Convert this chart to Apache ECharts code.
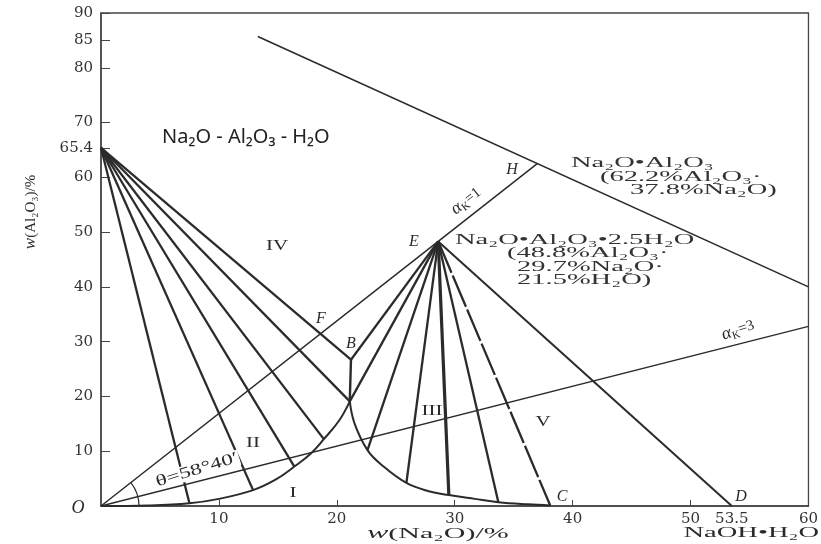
<!DOCTYPE html>
<html>
<head>
<meta charset="utf-8">
<script src="https://cdn.jsdelivr.net/npm/echarts@6/dist/echarts.min.js"></script>
<style>
  html, body { margin: 0; padding: 0; background: #fff; }
  #main { width: 821px; height: 544px; }
</style>
</head>
<body>
<div id="main"></div>
<script>
// 关键点 [w(Na2O), w(Al2O3)]
var pointA = [0, 65.4];
var pointE = [28.6, 48.3];
var pointH = [37, 62.5];
var pointB = [21.2, 26.7];
var pointP = [21.1, 19.1];
var pointC = [38.1, 0.1];
var pointD = [53.5, 0];
var origin = [0, 0];
var anhydrousLine = [[13.3, 85.7], [60, 40]];
var alpha3End = [60, 32.8];

// 溶解度曲线
var curveOP = [[0, 0], [4, 0.1], [7.5, 0.5], [10, 1.3], [12.9, 2.9], [14.8, 4.8], [16.4, 7.2], [17.8, 9.6], [18.9, 12.2], [20.2, 15.6], [21.1, 19.1]];
var curvePC = [[21.1, 19.1], [21.5, 15.1], [22.6, 10.2], [23.8, 7.5], [25.9, 4.2], [27.8, 2.7], [29.5, 2.0], [31.7, 1.3], [33.7, 0.7], [36.2, 0.3], [38.1, 0.1]];

// 连接线端点
var fanAEnds = [[7.5, 0.5], [12.9, 2.9], [16.4, 7.2], [18.9, 12.2], [21.1, 19.1], [21.2, 26.7]];
var fanEEnds = [[21.2, 26.7], [21.1, 19.1], [22.6, 10.2], [25.9, 4.2], [29.5, 2.0], [33.7, 0.7]];

// 刻度
var xTicks = [10, 20, 30, 40, 50];
var xLabels = [10, 20, 30, 40, 50, 53.5, 60];
var yTicks = [10, 20, 30, 40, 50, 60, 65.4, 70, 80, 85, 90];

var ink = '#2b2b2b';
var serif = 'Liberation Serif';

function seg(points, width, type) {
    return {
        type: 'line',
        data: points,
        symbol: 'none',
        silent: true,
        lineStyle: { color: ink, width: width, type: type || 'solid' }
    };
}

function curve(points, width) {
    var s = seg(points, width);
    s.smooth = 0.4;
    return s;
}

var series = [];
series.push(seg(anhydrousLine, 1.6));
series.push(seg([origin, pointE, pointH], 1.5));
series.push(seg([origin, alpha3End], 1.3));
series.push(curve(curveOP, 2));
series.push(curve(curvePC, 2));
series.push(seg([pointB, pointP], 2.4));
fanAEnds.forEach(function (p) { series.push(seg([pointA, p], 2.3)); });
fanEEnds.forEach(function (p, i) { series.push(seg([pointE, p], i === 4 ? 3.2 : 2.3)); });
series.push(seg([pointE, pointC], 2.3, [34, 3]));
series.push(seg([pointE, pointD], 2));

var myChart = echarts.init(document.getElementById('main'));

myChart.setOption({
    animation: false,
    backgroundColor: '#fff',
    grid: { left: 101, right: 10, top: 13, bottom: 38, show: true, borderColor: '#444', borderWidth: 1.3 },
    xAxis: {
        type: 'value', min: 0, max: 60,
        axisLine: { lineStyle: { color: '#444', width: 1.5 } },
        axisTick: { inside: true, length: 6, customValues: xTicks, lineStyle: { color: '#444' } },
        axisLabel: { customValues: xLabels, color: '#333', fontFamily: 'DejaVu Serif', fontSize: 15, margin: 6 },
        splitLine: { show: false }
    },
    yAxis: {
        type: 'value', min: 0, max: 90,
        axisLine: { show: true, lineStyle: { color: '#444', width: 1.5 } },
        axisTick: { show: true, inside: true, length: 9, customValues: yTicks, lineStyle: { color: '#444' } },
        axisLabel: { customValues: yTicks, color: '#333', fontFamily: 'DejaVu Serif', fontSize: 15, margin: 8 },
        splitLine: { show: false }
    },
    series: series
});

// 注释文字
function txt(x, y, text, o) {
    o = o || {};
    var style = {
        text: text,
        fill: o.color || '#2a2a2a',
        textAlign: o.align || 'center',
        textVerticalAlign: 'middle',
        backgroundColor: o.bg,
        padding: o.pad
    };
    if (o.rich) {
        style.rich = o.rich;
    } else {
        style.font = (o.style || 'normal') + ' ' + (o.size || 15) + 'px ' + (o.family || serif);
    }
    return {
        type: 'text', x: x, y: y, z: 100,
        rotation: (o.rot || 0) * Math.PI / 180,
        scaleX: o.sx || 1,
        style: style
    };
}

function tok(size, italic) {
    var f = (italic ? 'italic ' : '') + size + 'px ' + serif;
    return { font: f, fontSize: size, fontFamily: serif, fontStyle: italic ? 'italic' : 'normal', fill: '#2a2a2a' };
}

var o0 = myChart.convertToPixel({ gridIndex: 0 }, origin);
var eP = myChart.convertToPixel({ gridIndex: 0 }, pointE);
var ang = Math.atan2(o0[1] - eP[1], eP[0] - o0[0]);

var alphaRich = {
    a: Object.assign(tok(18, true), { lineHeight: 20 }),
    k: Object.assign(tok(11, false), { lineHeight: 10, verticalAlign: 'bottom' }),
    n: Object.assign(tok(15, false), { lineHeight: 20 })
};
var comp = { align: 'left', size: 15, sx: 1.9, color: '#333' };

myChart.setOption({
    graphic: [
        { type: 'arc', z: 100, shape: { cx: o0[0], cy: o0[1], r: 38, startAngle: -ang, endAngle: 0, clockwise: true },
          style: { stroke: ink, lineWidth: 1.2, fill: null } },
        txt(162, 137, 'Na₂O - Al₂O₃ - H₂O', { align: 'left', family: 'Noto Sans', size: 20, color: '#222' }),
        txt(78, 508, 'O', { style: 'italic', size: 18 }),
        txt(277, 246, 'IV', { size: 15, sx: 1.4 }),
        txt(253, 443, 'II', { size: 15, sx: 1.4 }),
        txt(293, 493, 'I', { size: 15, sx: 1.4 }),
        txt(432, 411, 'III', { size: 15, sx: 1.4 }),
        txt(543, 422, 'V', { size: 15, sx: 1.4 }),
        txt(321, 319, 'F', { style: 'italic', size: 16 }),
        txt(351, 344, 'B', { style: 'italic', size: 16 }),
        txt(414, 242, 'E', { style: 'italic', size: 16 }),
        txt(512, 170, 'H', { style: 'italic', size: 16 }),
        txt(562, 497, 'C', { style: 'italic', size: 16 }),
        txt(741, 497, 'D', { style: 'italic', size: 16 }),
        txt(466, 201, '{a|α}{k|K}{n|=1}', { rot: 38, rich: alphaRich }),
        txt(738, 330, '{a|α}{k|K}{n|=3}', { rot: 18, rich: alphaRich }),
        txt(197, 470, 'θ=58°40′', { rot: 17, size: 16, sx: 1.45, bg: '#fff', pad: [0, 1] }),
        txt(571, 163, 'Na₂O•Al₂O₃', comp),
        txt(600, 177, '(62.2%Al₂O₃·', comp),
        txt(630, 190, '37.8%Na₂O)', comp),
        txt(455, 240, 'Na₂O•Al₂O₃•2.5H₂O', comp),
        txt(507, 253, '(48.8%Al₂O₃·', comp),
        txt(517, 267, '29.7%Na₂O·', comp),
        txt(517, 280, '21.5%H₂O)', comp),
        txt(367, 534, '{i|w}{t|(Na₂O)/%}', { align: 'left', sx: 2.0, rich: { i: tok(16, true), t: tok(15, false) } }),
        txt(819, 533, 'NaOH•H₂O', { align: 'right', size: 15, sx: 1.9 }),
        txt(31, 212, '{i|w}{t|(Al₂O₃)/%}', { rot: 90, rich: { i: tok(17, true), t: tok(15, false) } })
    ]
});

window.onresize = function () {
    myChart.resize();
};
</script>
</body>
</html>
